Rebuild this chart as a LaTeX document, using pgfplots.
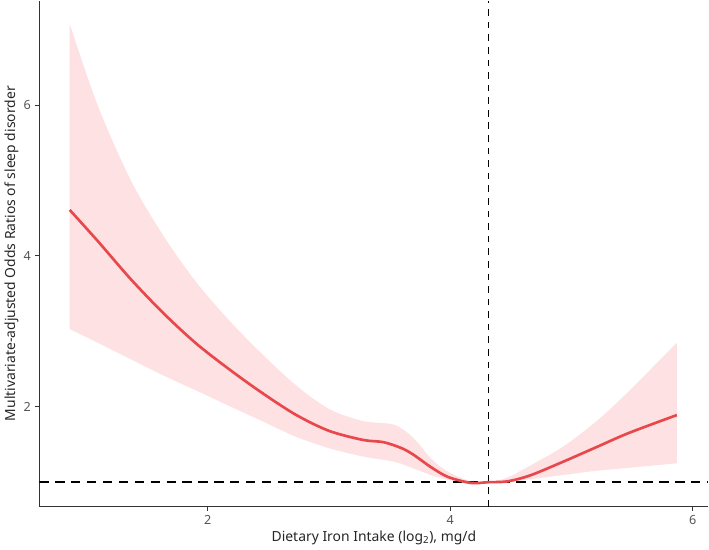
\documentclass[border=0pt]{standalone}
\usepackage{pgfplots}
\pgfplotsset{compat=1.18}
\usepgfplotslibrary{fillbetween}
\usepackage{fontspec}
\setmainfont{Noto Sans}
\definecolor{rline}{HTML}{E8474B}
\definecolor{rband}{HTML}{FDE1E3}
\definecolor{tickgray}{HTML}{555555}
\begin{document}
\begin{tikzpicture}
\begin{axis}[
  scale only axis,
  width=505pt, height=382pt,
  xmin=0.61, xmax=6.13, ymin=0.675, ymax=7.385,
  axis x line=bottom, axis y line=left,
  axis line style={-, line width=0.9pt, black!80},
  xtick={2,4,6}, ytick={2,4,6},
  tick align=outside,
  major tick length=3pt,
  tick style={line width=0.7pt, black!80},
  ticklabel style={font=\fontsize{9.5}{11}\selectfont, text=tickgray},
  /pgf/number format/assume math mode=true,
  xlabel={Dietary Iron Intake (log\textsubscript{2}), mg/d},
  ylabel={Multivariate-adjusted Odds Ratios of sleep disorder},
  label style={font=\fontsize{10.5}{12}\selectfont, text=black!85},
  xlabel style={yshift=2pt},
  ylabel style={yshift=-3pt},
  clip=true,
]
\addplot[name path=up, draw=none, smooth, tension=0.5] coordinates {
(0.86,7.08) (1.09,6.00) (1.365,5.00) (1.64,4.25) (1.91,3.64) (2.19,3.12)
(2.46,2.68) (2.73,2.28) (3.00,1.97) (3.28,1.81) (3.54,1.76) (3.70,1.58)
(3.84,1.315) (3.98,1.14) (4.17,1.01) (4.317,1.0) (4.47,1.06) (4.66,1.22)
(4.93,1.47) (5.20,1.80) (5.47,2.20) (5.87,2.85)};
\addplot[name path=lo, draw=none, smooth, tension=0.5] coordinates {
(0.86,3.03) (1.09,2.85) (1.365,2.63) (1.64,2.41) (1.91,2.21) (2.19,2.00)
(2.46,1.80) (2.73,1.60) (3.00,1.45) (3.28,1.34) (3.54,1.27) (3.70,1.18)
(3.84,1.095) (3.98,1.03) (4.17,0.985) (4.317,1.0) (4.47,1.0) (4.66,1.04)
(4.93,1.095) (5.20,1.15) (5.47,1.19) (5.87,1.25)};
\addplot[rband, draw=none] fill between[of=up and lo];
\addplot[black, line width=1.4pt, dash pattern=on 7pt off 5pt] coordinates {(0.61,1) (6.13,1)};
\addplot[black, line width=1.2pt, dash pattern=on 5pt off 4.5pt] coordinates {(4.317,0.675) (4.317,7.385)};
\addplot[rline, line width=2pt, smooth, tension=0.5] coordinates {
(0.86,4.61) (1.09,4.20) (1.365,3.69) (1.64,3.23) (1.91,2.83) (2.19,2.48)
(2.46,2.17) (2.73,1.89) (3.00,1.68) (3.28,1.56) (3.45,1.53) (3.60,1.45) (3.70,1.36)
(3.84,1.20) (3.98,1.07) (4.17,0.99) (4.317,1.0) (4.47,1.01) (4.66,1.09)
(4.93,1.27) (5.20,1.46) (5.47,1.65) (5.87,1.89)};
\end{axis}
\end{tikzpicture}
\end{document}
